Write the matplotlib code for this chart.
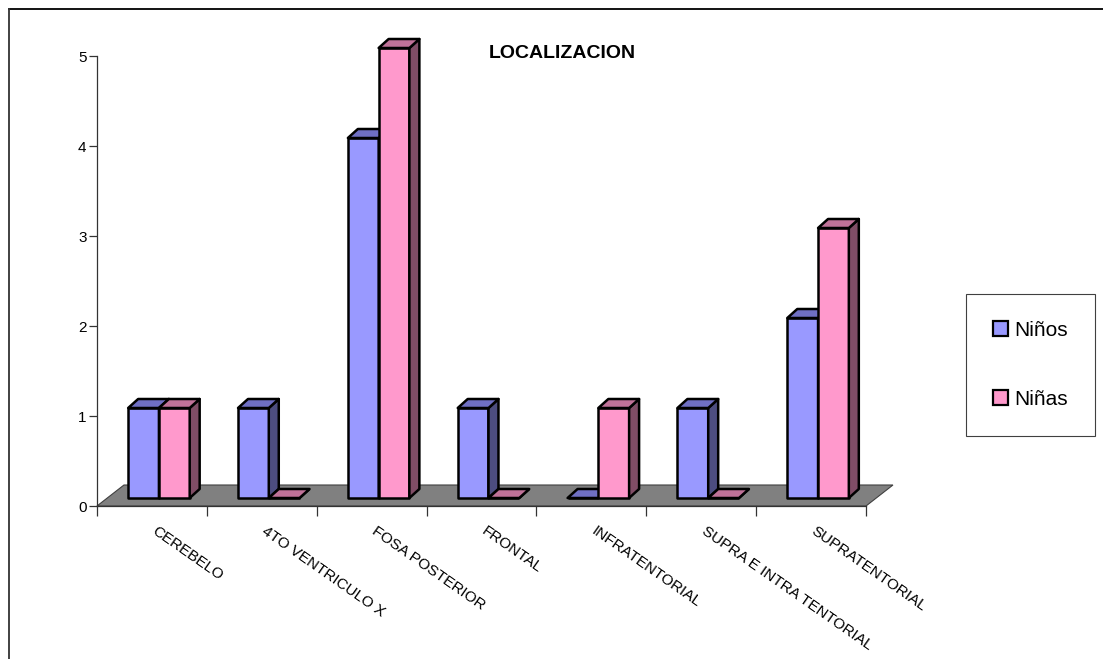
import matplotlib
matplotlib.use("Agg")
import matplotlib.pyplot as plt
import matplotlib.transforms as mtransforms
from matplotlib.patches import Polygon, Patch
from matplotlib.lines import Line2D

plt.rcParams['font.family'] = ['Liberation Sans', 'DejaVu Sans']

# datos
categorias = ['CEREBELO', '4TO VENTRICULO X', 'FOSA POSTERIOR', 'FRONTAL',
              'INFRATENTORIAL', 'SUPRA E INTRA TENTORIAL', 'SUPRATENTORIAL']
ninos = [1, 1, 4, 1, 0, 1, 2]
ninas = [1, 0, 5, 0, 1, 0, 3]
series = ['Niños', 'Niñas']
titulo = 'LOCALIZACION'

# colores estilo Excel 3D (frente, arriba, lado)
colores = {
    'Niños': ('#9999FF', '#6F6FC4', '#4D4D80'),
    'Niñas': ('#FF99CC', '#C07299', '#804D66'),
}

W, H = 1103, 659
fig = plt.figure(figsize=(W / 100, H / 100), dpi=100)
ax = fig.add_axes([97 / W, 1 - 506 / H, (866 - 97) / W, 450 / H])
ax.set_xlim(0, len(categorias))
ax.set_ylim(0, 5)

# profundidad del "suelo" y de las barras (en unidades de datos)
piso_dx, piso_dy = 27 / 110, 21 / 90
frente_dx, frente_dy = 7 / 110, 8 / 90
prof_dx, prof_dy = 10 / 110, 9 / 90
ancho = 0.28

n = len(categorias)
piso = Polygon([(0, 0), (n, 0), (n + piso_dx, piso_dy), (piso_dx, piso_dy)],
               closed=True, facecolor='#808080', edgecolor='#404040',
               linewidth=0.8, clip_on=False, zorder=1)
ax.add_patch(piso)

def barra_3d(x0, v, cols):
    fr, top, lado = cols
    x = x0 + frente_dx
    y = frente_dy
    caras = [
        ([(x, y), (x + ancho, y), (x + ancho, y + v), (x, y + v)], fr),
        ([(x + ancho, y), (x + ancho + prof_dx, y + prof_dy),
          (x + ancho + prof_dx, y + v + prof_dy), (x + ancho, y + v)], lado),
        ([(x, y + v), (x + ancho, y + v),
          (x + ancho + prof_dx, y + v + prof_dy), (x + prof_dx, y + v + prof_dy)], top),
    ]
    for pts, c in caras:
        ax.add_patch(Polygon(pts, closed=True, facecolor=c, edgecolor='black',
                             linewidth=1.8, joinstyle='round', clip_on=False, zorder=3))

for i in range(n):
    for j, (nombre, vals) in enumerate(zip(series, [ninos, ninas])):
        x0 = i + 0.5 - ancho + j * ancho
        barra_3d(x0, vals[i], colores[nombre])

# ejes
for s in ['top', 'right']:
    ax.spines[s].set_visible(False)
ax.spines['left'].set_color('#333333')
ax.spines['bottom'].set_color('#333333')
ax.spines['left'].set_linewidth(0.9)
ax.spines['bottom'].set_linewidth(0.9)
ax.spines['bottom'].set_zorder(2)

ax.set_yticks(range(0, 6))
ax.tick_params(axis='y', length=6, width=0.9, color='#333333', pad=1.5, labelsize=11)
ax.set_xticks(range(0, n + 1))
ax.set_xticklabels([])
ax.tick_params(axis='x', which='major', length=7, width=0.9, color='#333333')
ax.set_xticks([i + 0.5 for i in range(n)], minor=True)
ax.set_xticklabels(categorias, minor=True, rotation=-35, ha='left', va='top',
                   rotation_mode='anchor', fontsize=11)
ax.tick_params(axis='x', which='minor', length=0, pad=13)
desplaza = mtransforms.ScaledTranslation(6 / 100, 0, fig.dpi_scale_trans)
for lbl in ax.get_xticklabels(minor=True):
    lbl.set_transform(lbl.get_transform() + desplaza)
ax.patch.set_visible(False)

# titulo
fig.text(562 / W, 1 - 54 / H, titulo, ha='center', va='center',
         fontsize=14, fontweight='bold')

# leyenda
handles = [Patch(facecolor=colores[s][0], edgecolor='black', linewidth=1.6) for s in series]
leg = fig.legend(handles, series, loc='upper left',
                 bbox_to_anchor=(966 / W, 1 - 294 / H), bbox_transform=fig.transFigure,
                 fontsize=15, frameon=True, fancybox=False, framealpha=1,
                 edgecolor='#404040', borderpad=1.3, labelspacing=2.4,
                 handlelength=0.7, handleheight=0.7, handletextpad=0.3,
                 borderaxespad=0)
leg.get_frame().set_linewidth(0.8)

# marco exterior (solo arriba e izquierda visibles)
fig.add_artist(Line2D([9 / W, 1], [1 - 9 / H, 1 - 9 / H], color='black', linewidth=1.3))
fig.add_artist(Line2D([9 / W, 9 / W], [0, 1 - 9 / H], color='#333333', linewidth=1.3))

fig.savefig('out.png', dpi=100)
